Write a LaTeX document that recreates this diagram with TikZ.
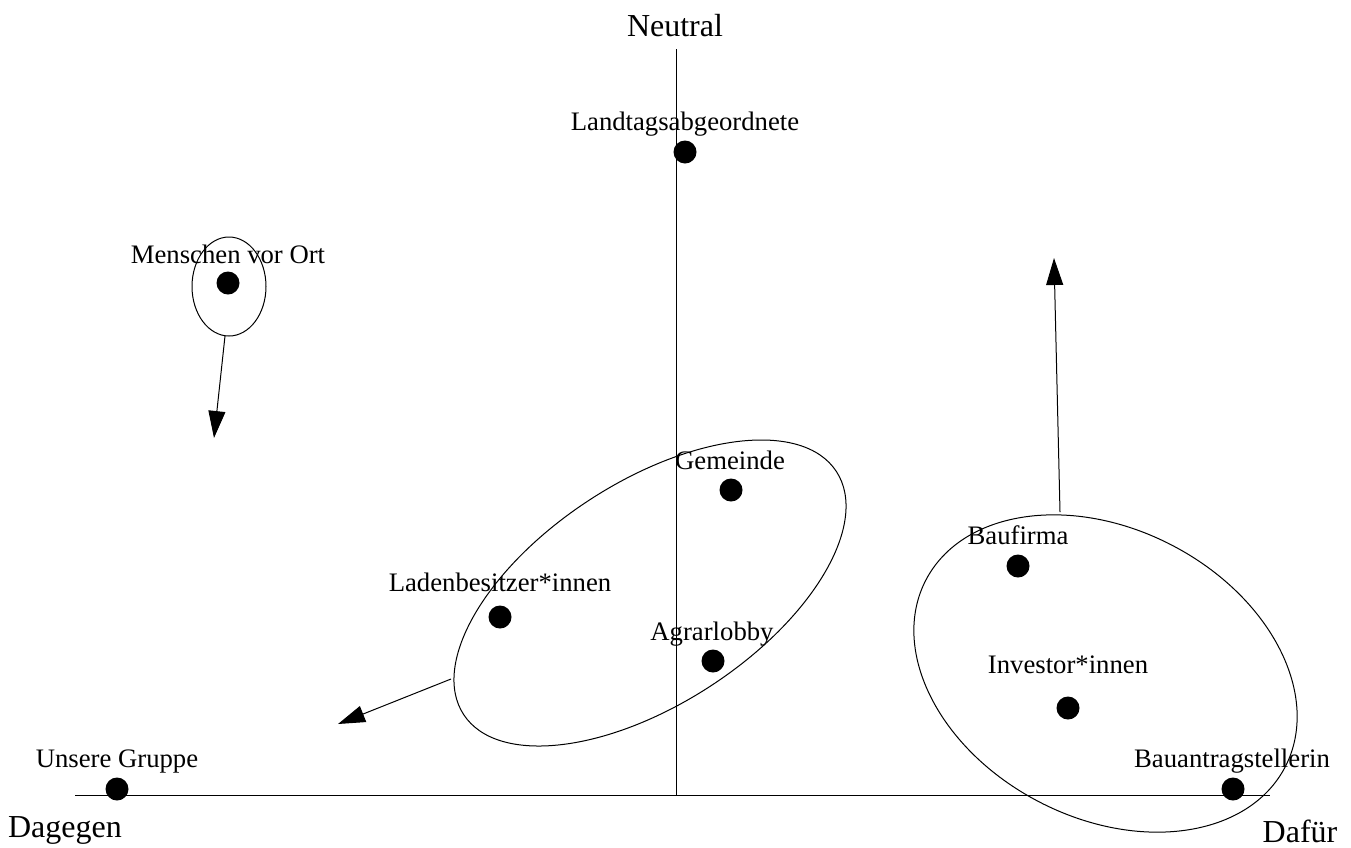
\documentclass[tikz,border=0pt]{standalone}
\usepackage{fontspec}
\setmainfont{Liberation Serif}
\usetikzlibrary{arrows.meta,shapes.geometric}
\begin{document}
\begin{tikzpicture}[x=1pt,y=-1pt,
  lbl/.style={anchor=base,inner sep=0pt,font=\fontsize{26.7}{32}\selectfont},
  axlbl/.style={anchor=base,inner sep=0pt,font=\fontsize{32}{38}\selectfont},
  dot/.style={circle,fill=black,minimum size=23pt,inner sep=0pt},
  grp/.style={ellipse,draw=black,line width=1pt,inner sep=0pt},
  axis/.style={line width=1pt},
  mv/.style={line width=1pt,-{Triangle[length=27pt,width=17pt]}}]
\useasboundingbox (0,0) rectangle (1351,847);
% axes
\coordinate (vtop) at (676,49);
\coordinate (vbot) at (676,796);
\coordinate (hl) at (75,795);
\coordinate (hr) at (1270,795);
\draw[axis] (vtop) -- (vbot);
\draw[axis] (hl) -- (hr);
\node[axlbl] (neutral) at (675,36) {Neutral};
\node[axlbl] (dagegen) at (65,837) {Dagegen};
\node[axlbl] (dafuer) at (1300,842) {Dafür};
% groups
\node[grp,minimum width=74pt,minimum height=99pt] (gm) at (229,286.5) {};
\node[grp,minimum width=445pt,minimum height=222pt,rotate=33.1] (gmid) at (650,593) {};
\node[grp,minimum width=405pt,minimum height=289pt,rotate=-27.5] (gright) at (1105.5,673.5) {};
% actors
\node[dot] (d1) at (685,152) {};
\node[lbl] (l1) at (685,130) {Landtagsabgeordnete};
\node[dot] (d2) at (228,283) {};
\node[lbl] (l2) at (228,263) {Menschen vor Ort};
\node[dot] (d3) at (731,490) {};
\node[lbl] (l3) at (730,469) {Gemeinde};
\node[dot] (d4) at (500,617) {};
\node[lbl] (l4) at (500,591) {Ladenbesitzer*innen};
\node[dot] (d5) at (713,661) {};
\node[lbl] (l5) at (712,640) {Agrarlobby};
\node[dot] (d6) at (1018,566) {};
\node[lbl] (l6) at (1018,544) {Baufirma};
\node[dot] (d7) at (1068,708) {};
\node[lbl] (l7) at (1068,673) {Investor*innen};
\node[dot] (d8) at (1233,789) {};
\node[lbl] (l8) at (1232,767) {Bauantragstellerin};
\node[dot] (d9) at (117,789) {};
\node[lbl] (l9) at (117,767) {Unsere Gruppe};
% movement arrows
\coordinate (a1s) at (225,336);
\coordinate (a1e) at (214,438);
\coordinate (a2s) at (451,679);
\coordinate (a2e) at (338,724);
\coordinate (a3s) at (1060,512);
\coordinate (a3e) at (1054,258);
\draw[mv] (a1s) -- (a1e);
\draw[mv] (a2s) -- (a2e);
\draw[mv] (a3s) -- (a3e);
\end{tikzpicture}
\end{document}
